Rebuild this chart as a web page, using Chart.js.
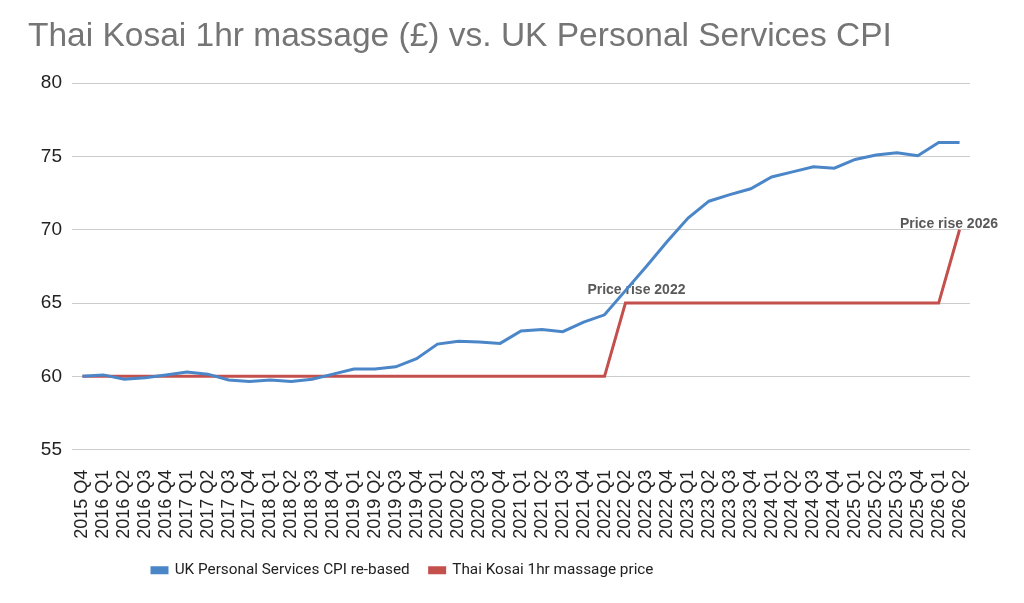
<!DOCTYPE html>
<html>
<head>
<meta charset="utf-8">
<title>Thai Kosai 1hr massage vs. UK Personal Services CPI</title>
<script src="https://cdn.jsdelivr.net/npm/chart.js@4/dist/chart.umd.min.js"></script>
<style>
  html, body { margin: 0; padding: 0; background: #fff; }
  #wrap { width: 1024px; height: 603px; }
</style>
</head>
<body>
<div id="wrap"><canvas id="chart"></canvas></div>
<script>
// Data
const quarters = [
  '2015 Q4',
  '2016 Q1', '2016 Q2', '2016 Q3', '2016 Q4',
  '2017 Q1', '2017 Q2', '2017 Q3', '2017 Q4',
  '2018 Q1', '2018 Q2', '2018 Q3', '2018 Q4',
  '2019 Q1', '2019 Q2', '2019 Q3', '2019 Q4',
  '2020 Q1', '2020 Q2', '2020 Q3', '2020 Q4',
  '2021 Q1', '2021 Q2', '2021 Q3', '2021 Q4',
  '2022 Q1', '2022 Q2', '2022 Q3', '2022 Q4',
  '2023 Q1', '2023 Q2', '2023 Q3', '2023 Q4',
  '2024 Q1', '2024 Q2', '2024 Q3', '2024 Q4',
  '2025 Q1', '2025 Q2', '2025 Q3', '2025 Q4',
  '2026 Q1', '2026 Q2'
];

const cpiRebased = [
  60.0,
  60.1, 59.8, 59.9, 60.1,
  60.3, 60.15, 59.75, 59.65,
  59.75, 59.65, 59.8, 60.15,
  60.5, 60.5, 60.65, 61.2,
  62.2, 62.4, 62.35, 62.25,
  63.1, 63.2, 63.05, 63.7,
  64.2, 65.85, 67.5, 69.2,
  70.8, 71.95, 72.4, 72.8,
  73.6, 73.95, 74.3, 74.2,
  74.8, 75.1, 75.25, 75.05,
  75.95, 75.95
];

const massagePrice = [
  60,
  60, 60, 60, 60,
  60, 60, 60, 60,
  60, 60, 60, 60,
  60, 60, 60, 60,
  60, 60, 60, 60,
  60, 60, 60, 60,
  60, 65, 65, 65,
  65, 65, 65, 65,
  65, 65, 65, 65,
  65, 65, 65, 65,
  65, 70
];

const yTicks = [55, 60, 65, 70, 75, 80];

// Point labels on the massage price series: [index, text]
const priceRiseLabels = [
  [26, 'Price rise 2022'],
  [42, 'Price rise 2026']
];

const BLUE = '#4a86c8';
const RED = '#c4504d';

// Draws the "Price rise" notes above the red line
const priceLabelPlugin = {
  id: 'priceLabels',
  beforeDatasetsDraw(chart) {
    const meta = chart.getDatasetMeta(1);
    const ctx = chart.ctx;
    ctx.save();
    ctx.font = 'bold 14px "Liberation Sans", Arial, sans-serif';
    ctx.fillStyle = '#595959';
    ctx.textAlign = 'left';
    ctx.textBaseline = 'alphabetic';
    const offsets = { 26: -9, 42: -2 };
    priceRiseLabels.forEach(([idx, text]) => {
      const pt = meta.data[idx];
      if (!pt) return;
      const w = ctx.measureText(text).width;
      let left = pt.x + 11 - w / 2;
      const maxRight = chart.width - 26;
      if (left + w > maxRight) left = maxRight - w;
      ctx.fillText(text, left, pt.y + (offsets[idx] || -8));
    });
    ctx.restore();
  }
};

// The legend in the original sits left of centre and close to the tick labels
const legendShift = {
  id: 'legendShift',
  afterLayout(chart) {
    const lg = chart.legend;
    if (!lg) return;
    lg.left = 132;
    lg.top -= 8;
    lg.bottom -= 8;
  }
};

new Chart(document.getElementById('chart'), {
  type: 'line',
  data: {
    labels: quarters,
    datasets: [
      {
        label: 'UK Personal Services CPI re-based',
        data: cpiRebased,
        borderColor: BLUE,
        backgroundColor: BLUE,
        borderWidth: 3,
        pointRadius: 0,
        tension: 0
      },
      {
        label: 'Thai Kosai 1hr massage price',
        data: massagePrice,
        borderColor: RED,
        backgroundColor: RED,
        borderWidth: 3,
        pointRadius: 0,
        tension: 0
      }
    ]
  },
  options: {
    responsive: true,
    maintainAspectRatio: false,
    animation: false,
    layout: { padding: { left: 28, right: 54, top: 17, bottom: 7 } },
    plugins: {
      title: {
        display: true,
        text: 'Thai Kosai 1hr massage (£) vs. UK Personal Services CPI',
        align: 'start',
        color: '#757575',
        font: { family: '"Liberation Sans", Arial, sans-serif', size: 33.5, weight: 'normal' },
        padding: { top: 0, bottom: 26 }
      },
      legend: {
        position: 'bottom',
        align: 'start',
        labels: {
          color: '#222',
          font: { family: 'Roboto, "Liberation Sans", Arial, sans-serif', size: 15.3 },
          boxWidth: 15,
          boxHeight: 5,
          padding: 20
        }
      },
      tooltip: { enabled: false }
    },
    scales: {
      x: {
        offset: true,
        grid: { display: false },
        border: { display: false },
        ticks: {
          color: '#222',
          font: { family: '"Liberation Sans", Arial, sans-serif', size: 18 },
          maxRotation: 90,
          minRotation: 90,
          autoSkip: false,
          padding: 12
        }
      },
      y: {
        min: 55,
        max: 80,
        afterFit(scale) { scale.width = 44; },
        afterBuildTicks(scale) { scale.ticks = yTicks.map(v => ({ value: v })); },
        grid: { color: '#cccccc', lineWidth: 1, drawTicks: false },
        border: { display: false },
        ticks: {
          color: '#222',
          font: { family: '"Liberation Sans", Arial, sans-serif', size: 19 },
          padding: 10
        }
      }
    }
  },
  plugins: [priceLabelPlugin, legendShift]
});
</script>
</body>
</html>
